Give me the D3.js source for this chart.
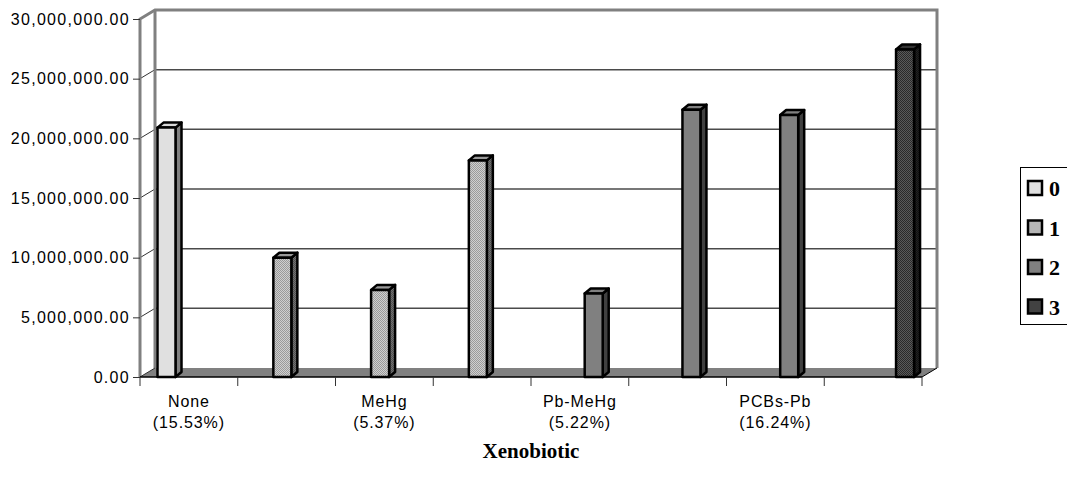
<!DOCTYPE html>
<html>
<head>
<meta charset="utf-8">
<script src="https://d3js.org/d3.v7.min.js"></script>
<style>
    body { margin: 0; background: #fff; }
</style>
</head>
<body>
<svg id="drawing_region"></svg>
<script>
// data
const categories = ['None', 'c1', 'MeHg', 'c3', 'Pb-MeHg', 'c5', 'PCBs-Pb', 'c7'];
const categoryLabels = [['None', '(15.53%)'], [], ['MeHg', '(5.37%)'], [], ['Pb-MeHg', '(5.22%)'], [], ['PCBs-Pb', '(16.24%)'], []];
const seriesNames = ['0', '1', '2', '3'];
const barSeries = ['0', '1', '1', '1', '2', '2', '2', '3'];
const barValues = [20900000, 10000000, 7300000, 18150000, 7000000, 22400000, 21950000, 27450000];
const yTicks = [0, 5000000, 10000000, 15000000, 20000000, 25000000, 30000000];
const xTitle = 'Xenobiotic';

const data = categories.map((c, i) => ({ cat: c, series: barSeries[i], value: barValues[i] }));

var config = {
    parent: '#drawing_region',
    width: 1067,
    height: 479,
    plot: { left: 140, right: 922, top: 19, bottom: 377 },
    depth: { dx: 15, dy: -9 },
    bar: { width: 18, dx: 6, dy: -5 }
};

class Bar3D {
    constructor(config, data) {
        this.config = config;
        this.data = data;
        this.init();
    }

    init() {
        let self = this;
        const p = self.config.plot;

        self.svg = d3.select(self.config.parent)
            .attr('width', self.config.width)
            .attr('height', self.config.height);

        const defs = self.svg.append('defs');
        // little checker patterns like the excel fills
        const checker = (id, a, b) => {
            const pat = defs.append('pattern')
                .attr('id', id)
                .attr('width', 2).attr('height', 2)
                .attr('patternUnits', 'userSpaceOnUse');
            pat.append('rect').attr('width', 2).attr('height', 2).attr('fill', a);
            pat.append('rect').attr('width', 1).attr('height', 1).attr('fill', b);
            pat.append('rect').attr('x', 1).attr('y', 1).attr('width', 1).attr('height', 1).attr('fill', b);
        };
        checker('pat1', '#cfcfcf', '#9a9a9a');
        checker('pat1side', '#707070', '#505050');
        checker('pat3', '#5a5a5a', '#2a2a2a');
        checker('pat3side', '#222', '#111');

        self.fills = {
            '0': { front: '#e0e0e0', side: '#808080', top: '#d8d8d8' },
            '1': { front: 'url(#pat1)', side: 'url(#pat1side)', top: '#999' },
            '2': { front: '#808080', side: '#404040', top: '#808080' },
            '3': { front: 'url(#pat3)', side: 'url(#pat3side)', top: '#333' }
        };

        self.xscale = d3.scaleBand()
            .domain(categories)
            .range([p.left, p.right]);

        self.xinner = d3.scaleBand()
            .domain(seriesNames)
            .range([17.5, 17.5 + 72.4]);

        self.yscale = d3.scaleLinear()
            .domain([0, 30000000])
            .range([p.bottom, p.top]);

        self.chart = self.svg.append('g');
    }

    render() {
        let self = this;
        const p = self.config.plot;
        const dx = self.config.depth.dx, dy = self.config.depth.dy;
        const wallColor = '#808080';

        // floor
        self.chart.append('polygon')
            .attr('points', [[p.left, p.bottom], [p.left + dx, p.bottom + dy], [p.right + dx, p.bottom + dy], [p.right, p.bottom]].join(' '))
            .attr('fill', '#808080');

        // back wall gridlines + side wall diagonals
        yTicks.filter(t => t > 0 && t < 30000000).forEach(t => {
            const y = self.yscale(t);
            self.chart.append('line')
                .attr('x1', p.left + dx).attr('x2', p.right + dx)
                .attr('y1', y + dy).attr('y2', y + dy)
                .attr('stroke', '#4a4a4a').attr('stroke-width', 1.5);
            self.chart.append('line')
                .attr('x1', p.left).attr('y1', y)
                .attr('x2', p.left + dx).attr('y2', y + dy)
                .attr('stroke', '#333').attr('stroke-width', 1);
        });

        // wall outline
        self.chart.append('path')
            .attr('d', `M${p.left},${p.bottom}V${p.top}L${p.left + dx},${p.top + dy}H${p.right + dx}V${p.bottom + dy}`)
            .attr('fill', 'none')
            .attr('stroke', wallColor)
            .attr('stroke-width', 3);
        self.chart.append('line')
            .attr('x1', p.left + dx).attr('x2', p.left + dx)
            .attr('y1', p.top + dy).attr('y2', p.bottom + dy)
            .attr('stroke', wallColor).attr('stroke-width', 3);

        // floor edges
        self.chart.append('line')
            .attr('x1', p.left).attr('y1', p.bottom)
            .attr('x2', p.left + dx).attr('y2', p.bottom + dy)
            .attr('stroke', '#333').attr('stroke-width', 1);
        self.chart.append('line')
            .attr('x1', p.right).attr('y1', p.bottom)
            .attr('x2', p.right + dx).attr('y2', p.bottom + dy)
            .attr('stroke', '#000').attr('stroke-width', 1);

        // bars
        const bw = self.config.bar.width, bdx = self.config.bar.dx, bdy = self.config.bar.dy;
        const bars = self.chart.selectAll('.bar')
            .data(self.data)
            .join('g')
            .attr('class', 'bar');

        const x0 = d => self.xscale(d.cat) + self.xinner(d.series);
        const y0 = self.yscale(0);

        bars.append('polygon')
            .attr('points', d => {
                const x = x0(d), y = self.yscale(d.value);
                return [[x + bw, y], [x + bw + bdx, y + bdy], [x + bw + bdx, y0 + bdy], [x + bw, y0]].join(' ');
            })
            .attr('fill', d => self.fills[d.series].side);
        bars.append('polygon')
            .attr('points', d => {
                const x = x0(d), y = self.yscale(d.value);
                return [[x, y], [x + bdx, y + bdy], [x + bw + bdx, y + bdy], [x + bw, y]].join(' ');
            })
            .attr('fill', d => self.fills[d.series].top);
        bars.append('rect')
            .attr('x', d => x0(d))
            .attr('y', d => self.yscale(d.value))
            .attr('width', bw)
            .attr('height', d => y0 - self.yscale(d.value))
            .attr('fill', d => self.fills[d.series].front);
        bars.selectAll('polygon, rect')
            .attr('stroke', '#000')
            .attr('stroke-width', 2.5)
            .attr('stroke-linejoin', 'round');

        // y axis
        self.yaxis = d3.axisLeft(self.yscale)
            .tickValues(yTicks)
            .tickFormat(d3.format(',.2f'))
            .tickSize(7)
            .tickPadding(3);
        const yg = self.chart.append('g')
            .attr('transform', `translate(${p.left}, 0)`)
            .call(self.yaxis);
        yg.select('.domain').remove();
        yg.selectAll('.tick line').attr('stroke', '#333');
        yg.selectAll('.tick text')
            .attr('font-family', 'Liberation Sans, Arial, sans-serif')
            .attr('font-size', '16px')
            .attr('letter-spacing', '1.3px')
            .attr('fill', '#000');

        // x axis line and tick marks at category boundaries
        self.chart.append('line')
            .attr('x1', p.left).attr('x2', p.right)
            .attr('y1', p.bottom).attr('y2', p.bottom)
            .attr('stroke', '#000').attr('stroke-width', 1.5);
        const bounds = categories.map(c => self.xscale(c)).concat([p.right]);
        self.chart.selectAll('.xtick')
            .data(bounds)
            .join('line')
            .attr('class', 'xtick')
            .attr('x1', d => d).attr('x2', d => d)
            .attr('y1', p.bottom).attr('y2', p.bottom + 9)
            .attr('stroke', '#333').attr('stroke-width', 1);

        const lab = self.chart.selectAll('.xlabel')
            .data(categories)
            .join('text')
            .attr('class', 'xlabel')
            .attr('text-anchor', 'middle')
            .attr('font-family', 'Liberation Sans, Arial, sans-serif')
            .attr('font-size', '16px')
            .attr('letter-spacing', '0.9px');
        lab.selectAll('tspan')
            .data((d, i) => categoryLabels[i].map(s => ({ s: s, x: self.xscale(d) + self.xscale.bandwidth() / 2 })))
            .join('tspan')
            .attr('x', d => d.x)
            .attr('y', (d, i) => 407 + i * 21)
            .text(d => d.s);

        // axis title
        self.svg.append('text')
            .attr('x', 531)
            .attr('y', 458)
            .attr('text-anchor', 'middle')
            .attr('font-family', 'Liberation Serif, Times New Roman, serif')
            .attr('font-weight', 'bold')
            .attr('font-size', '21px')
            .text(xTitle);

        // legend
        const lg = self.svg.append('g');
        lg.append('rect')
            .attr('x', 1020.5).attr('y', 167.5)
            .attr('width', 60).attr('height', 157)
            .attr('fill', '#fff')
            .attr('stroke', '#000').attr('stroke-width', 1);
        const items = lg.selectAll('.item')
            .data(seriesNames)
            .join('g')
            .attr('class', 'item')
            .attr('transform', (d, i) => `translate(1028, ${181 + i * 39.5})`);
        items.append('rect')
            .attr('width', 14).attr('height', 14)
            .attr('fill', d => self.fills[d].front)
            .attr('stroke', '#000').attr('stroke-width', 2.5);
        items.append('text')
            .attr('x', 21).attr('y', 15)
            .attr('font-family', 'Liberation Serif, Times New Roman, serif')
            .attr('font-weight', 'bold')
            .attr('font-size', '22px')
            .text(d => d);
    }
}

const chart3d = new Bar3D(config, data);
chart3d.render();
</script>
</body>
</html>
